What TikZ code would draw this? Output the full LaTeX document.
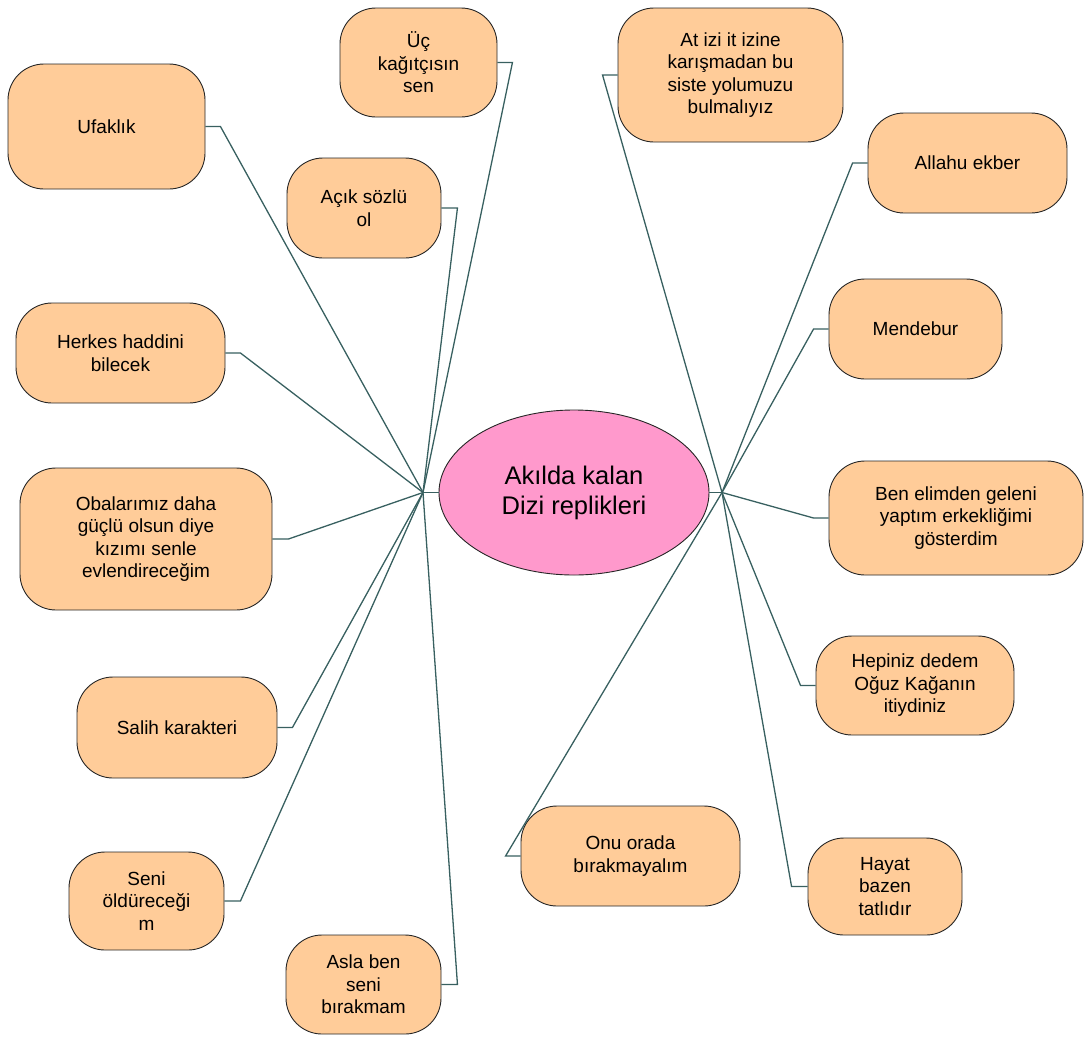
\documentclass[tikz,border=0pt]{standalone}
\usepackage{fontspec}
\setmainfont{Liberation Sans}
\definecolor{replyfill}{RGB}{255,204,153}
\definecolor{titlefill}{RGB}{255,153,204}
\definecolor{linkcol}{RGB}{56,96,96}
\tikzset{
    reply/.style = {
        draw = black!85,
        line width = 0.9pt,
        fill = replyfill,
        rounded corners = 36pt,
        align = center,
        inner sep = 0pt,
        font = \fontsize{19}{22.5}\selectfont,
        },
    title/.style = {
        draw = black!85,
        line width = 0.9pt,
        fill = titlefill,
        ellipse,
        align = center,
        inner sep = 0pt,
        font = \fontsize{25.5}{30}\selectfont,
        },
    link/.style = {
        draw = linkcol,
        line width = 1.3pt,
        },
}
\usetikzlibrary{shapes.geometric}

\begin{document}
\begin{tikzpicture}[x=1pt,y=-1pt]
    \useasboundingbox (0,0) rectangle (1084,1037);

    \node[title, minimum width=270pt, minimum height=165pt] (T) at (574,492.5) {Akılda kalan\\Dizi replikleri};
    \coordinate (hubL) at (423,492.5);
    \coordinate (hubR) at (722,492.5);

    % left side
    \node[reply, minimum width=197pt, minimum height=125pt] (U) at (106.5,126.5) {Ufaklık};
    \node[reply, minimum width=157pt, minimum height=109pt] (UC) at (418.5,62.5) {Üç\\kağıtçısın\\sen};
    \node[reply, minimum width=154pt, minimum height=100pt] (AC) at (364,208) {Açık sözlü\\ol};
    \node[reply, minimum width=209pt, minimum height=100pt] (HH) at (120.5,353) {Herkes haddini\\bilecek};
    \node[reply, minimum width=252pt, minimum height=142pt] (OB) at (146,539) {Obalarımız daha\\güçlü olsun diye\\kızımı senle\\evlendireceğim};
    \node[reply, minimum width=200pt, minimum height=101pt] (SK) at (177,727.5) {Salih karakteri};
    \node[reply, minimum width=155pt, minimum height=98pt] (SO) at (146.5,901) {Seni\\öldüreceği\\m};
    \node[reply, minimum width=155pt, minimum height=99pt] (AB) at (363.5,984.5) {Asla ben\\seni\\bırakmam};

    % right side
    \node[reply, minimum width=225pt, minimum height=134pt] (AT) at (730.5,75) {At izi it izine\\karışmadan bu\\siste yolumuzu\\bulmalıyız};
    \node[reply, minimum width=199pt, minimum height=100pt] (AE) at (967.5,163) {Allahu ekber};
    \node[reply, minimum width=173pt, minimum height=100pt] (ME) at (915.5,329) {Mendebur};
    \node[reply, minimum width=254pt, minimum height=114pt] (BE) at (956,518) {Ben elimden geleni\\yaptım erkekliğimi\\gösterdim};
    \node[reply, minimum width=198pt, minimum height=99pt] (HD) at (915,685.5) {Hepiniz dedem\\Oğuz Kağanın\\itiydiniz};
    \node[reply, minimum width=154pt, minimum height=97pt] (HB) at (885,886.5) {Hayat\\bazen\\tatlıdır};
    \node[reply, minimum width=219pt, minimum height=100pt] (OO) at (630.5,856) {Onu orada\\bırakmayalım};

    \path[link] (T.west) -- (hubL);
    \path[link] (T.east) -- (hubR);

    \path[link] (hubL) -- ([xshift=15pt]U.east) -- (U.east);
    \path[link] (hubL) -- ([xshift=15pt]UC.east) -- (UC.east);
    \path[link] (hubL) -- ([xshift=16pt]AC.east) -- (AC.east);
    \path[link] (hubL) -- ([xshift=15pt]HH.east) -- (HH.east);
    \path[link] (hubL) -- ([xshift=16pt]OB.east) -- (OB.east);
    \path[link] (hubL) -- ([xshift=15pt]SK.east) -- (SK.east);
    \path[link] (hubL) -- ([xshift=16pt]SO.east) -- (SO.east);
    \path[link] (hubL) -- ([xshift=16pt]AB.east) -- (AB.east);

    \path[link] (hubR) -- ([xshift=-15pt]AT.west) -- (AT.west);
    \path[link] (hubR) -- ([xshift=-15pt]AE.west) -- (AE.west);
    \path[link] (hubR) -- ([xshift=-15pt]ME.west) -- (ME.west);
    \path[link] (hubR) -- ([xshift=-15pt]BE.west) -- (BE.west);
    \path[link] (hubR) -- ([xshift=-15pt]HD.west) -- (HD.west);
    \path[link] (hubR) -- ([xshift=-16pt]HB.west) -- (HB.west);
    \path[link] (hubR) -- ([xshift=-15pt]OO.west) -- (OO.west);
\end{tikzpicture}
\end{document}
